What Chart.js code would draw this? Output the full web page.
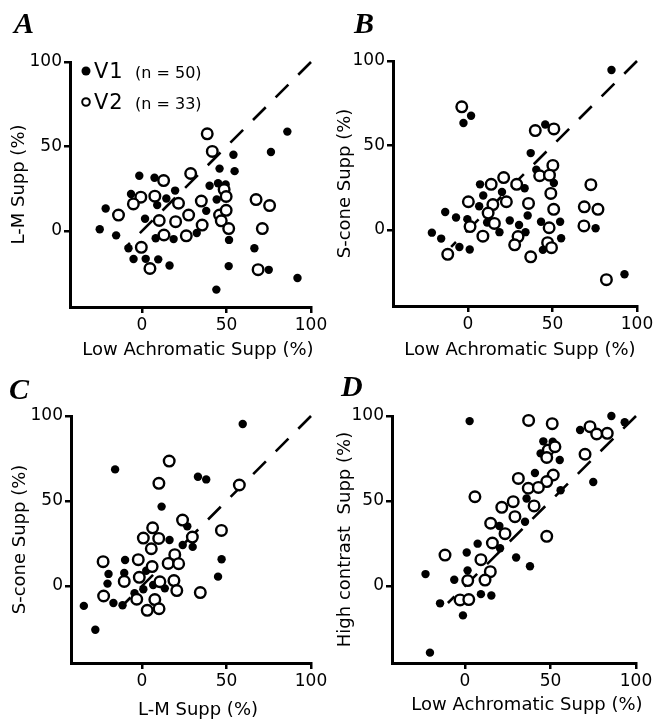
<!DOCTYPE html>
<html><head><meta charset="utf-8">
<script src="https://cdn.jsdelivr.net/npm/chart.js@4.4.0/dist/chart.umd.min.js"></script>
<style>
html,body{margin:0;padding:0;background:#fff;}
#wrap{position:relative;width:657px;height:720px;overflow:hidden;background:#fff;}
canvas{position:absolute;left:0;top:0;}
</style></head><body>
<div id="wrap">
<canvas id="cA" width="657" height="720" style="width:657px;height:720px"></canvas>
<canvas id="cB" width="657" height="720" style="width:657px;height:720px"></canvas>
<canvas id="cC" width="657" height="720" style="width:657px;height:720px"></canvas>
<canvas id="cD" width="657" height="720" style="width:657px;height:720px"></canvas>
</div>
<script>
// ---------- DATA ----------
const tickValues = [0, 50, 100];
const diagX = [100, -10];
const diagY = [100, -10];

// Panel A: Low Achromatic (x) vs L-M (y)
const aV1x = [86,76.3,54.1,54.8,45.9,-1.6,7.4,19.6,40,45,-6.5,14.4,44.2,-21.5,1.8,9,-25,-15.3,8.1,18.7,32.4,38,51.5,66.5,-8,-5,2.2,9.6,16.3,51.3,75,92,44,49.5];
const aV1y = [58.8,46.7,45.1,35.4,36.9,32.7,31.5,23.9,26.8,28.2,21.9,19.2,18.6,13.3,7.2,15.3,1,-2.6,-4.3,-4.8,-1.2,11.9,-5.3,-10.2,-10.2,-16.6,-16.5,-16.8,-20.4,-20.8,-23,-27.8,-34.7,27.5];
const aV2x = [38.6,41.6,28.8,12.8,-0.7,-5.1,7.6,-13.9,21.6,35.1,48.6,49.8,10.2,19.9,27.6,35.6,13,26.2,45.9,49.8,46.9,51.3,67.5,75.5,71.2,68.7,-0.4,4.7];
const aV2y = [57.5,47.1,34,29.8,20,16,20.6,9.4,16.4,17.7,24.5,20.4,6.2,5.5,9.4,3.5,-2.4,-2.9,9.4,12.2,6,1.4,18.6,15,1.4,-22.9,-9.7,-22.2];

// Panel B: Low Achromatic (x) vs S-cone (y)
const bV1x = [84.9,1.8,-2.7,45.7,37.1,40.4,50.8,7.1,33.5,20.1,9,-13.5,-7.1,6.6,24.7,35.3,54.5,43.2,-21.4,-15.9,-5.1,1,18.6,30.2,34,55.1,44.3,75.5,92.6,11.3,-0.4];
const bV1y = [94.7,67.6,63.3,62.4,45.5,35.7,27.8,27,24.7,22.5,20.4,10.6,7.4,14,5.6,8.6,4.9,4.9,-1.6,-5.1,-10.1,-11.6,-1.3,2.9,-1.3,-4.9,-11.8,1,-26.2,4.4,6.4];
const bV2x = [-3.7,39.8,50.8,50.2,42.4,48.2,21.1,13.7,28.8,49,0.2,14.7,22.7,35.8,11.9,50.7,72.7,68.8,76.9,68.6,1.2,15.6,48,8.8,29.6,27.6,47.1,49.4,-12,37.1,81.9];
const bV2y = [72.9,58.8,59.8,38.2,32.1,32.4,31,27,27,21.6,16.7,15,16.7,15.7,10,12.2,26.8,13.7,12.2,2.4,2,3.9,1.3,-3.7,-3.9,-8.8,-7.5,-10.5,-14.4,-15.9,-29.4];

// Panel C: L-M (x) vs S-cone (y)
const cV1x = [59.6,-15.9,33.1,38,11.6,26.8,16.3,24.1,30,-10,47.1,-19.8,-10.5,45,0.8,13.5,-4.4,-34.4,-11.5,-27.6,-16.9,-20.4,6.6,2.5];
const cV1y = [95.3,68.6,64.3,62.7,46.7,35.1,27.1,24.1,23,15.3,15.7,7.1,7.6,5.5,-1.9,-1.4,-4.3,-11.7,-11.3,-25.7,-10,1.4,0.6,9];
const cV2x = [16.1,10,57.6,24,29.8,47,6.3,0.8,9.9,5.5,-23,-2.2,19.4,15.5,21.7,6,-10.5,-1.6,10.6,18.9,20.6,34.5,-22.7,-3.1,7.6,3.1,10.1];
const cV2y = [73.5,60.4,59.4,38.8,28.8,32.7,34.2,28.2,28,21.9,14.3,15.5,18.4,13.3,13.1,11.4,2.7,5.1,2.5,3.2,-2.7,-3.9,-5.9,-7.8,-8,-14.3,-13.4];

// Panel D: Low Achromatic (x) vs High contrast (y)
const dV1x = [2.7,85.6,93.4,67.3,45.8,51.3,44.2,55.4,75,40.9,55.9,36,35.1,20.1,7.4,29.9,38,1,-23.1,-6.3,1.5,-14.6,9.3,15.4,-1.2,-20.5,20.5];
const dV1y = [97,100,96.3,91.8,85.1,84.9,78,74.1,61.2,66.5,56.3,51.5,37.8,35.3,24.9,16.8,11.6,19.7,7,3.7,9.2,-10.2,-4.8,-5.6,-17.3,-39.2,22.2];
const dV2x = [37.2,51,73.1,77,83.2,70.2,48.7,52.6,47.8,51.6,47.8,31.2,37,42.9,5.8,21.5,28.2,29.2,40.4,15,23.4,16,47.8,-11.7,9.3,14.8,1.6,11.7,-2.9,2.2];
const dV2y = [97.4,95.5,93.7,89.4,89.8,77.5,80,81.9,75.6,65.3,61.4,63.3,57.5,58,52.5,46.3,49.6,40.8,47.1,36.9,30.8,25.3,29.2,18.2,15.5,8.4,3.2,3.5,-8.2,-8];

const legendLabels = ['V1', '(n = 50)', 'V2', '(n = 33)'];
const titleLowAch = 'Low Achromatic Supp (%)';
const titleLM = 'L-M Supp (%)';
const titleS = 'S-cone Supp (%)';
const titleHigh = 'High contrast  Supp (%)';

// ---------- LAYOUT / STYLE ----------
const W = 657, H = 720, Y_W = 60, X_H = 40;
const panels = [
  {id:'cA', l:70, r:311, t:62, b:307, xmin:-42.6, ymin:-45, v1:[aV1x,aV1y], v2:[aV2x,aV2y],
   letter:'A', lp:[14,33], xt:titleLowAch, xtp:[198,355], yt:titleLM, ytp:[19.5,184.5], legend:true},
  {id:'cB', l:393, r:637, t:61, b:306, xmin:-44.4, ymin:-45, v1:[bV1x,bV1y], v2:[bV2x,bV2y],
   letter:'B', lp:[354,33], xt:titleLowAch, xtp:[520,355], yt:titleS, ytp:[345.5,183.5]},
  {id:'cC', l:71, r:311, t:416, b:663, xmin:-42, ymin:-45.3, v1:[cV1x,cV1y], v2:[cV2x,cV2y],
   letter:'C', lp:[9,399], xt:titleLM, xtp:[198,715], yt:titleS, ytp:[20.5,539.5]},
  {id:'cD', l:392, r:636, t:416, b:663, xmin:-42.7, ymin:-45.3, v1:[dV1x,dV1y], v2:[dV2x,dV2y],
   letter:'D', lp:[341,396], xt:titleLowAch, xtp:[527,710], yt:titleHigh, ytp:[345.5,539.5]}
];

function zip(xs, ys){ return xs.map((x,i)=>({x:x, y:ys[i]})); }

const decor = {
  id:'decor',
  afterDraw(chart, args, o){
    const ctx = chart.ctx;
    ctx.save();
    ctx.fillStyle = '#000'; ctx.strokeStyle = '#000';
    ctx.font = 'italic bold 30px "Liberation Serif"';
    ctx.textAlign = 'left'; ctx.textBaseline = 'alphabetic';
    ctx.fillText(o.letter, o.lp[0], o.lp[1]);
    ctx.font = '18px "DejaVu Sans"';
    ctx.textAlign = 'center'; ctx.textBaseline = 'alphabetic';
    ctx.fillText(o.xt, o.xtp[0], o.xtp[1]);
    ctx.save();
    ctx.translate(o.ytp[0], o.ytp[1]);
    ctx.rotate(-Math.PI/2);
    ctx.textBaseline = 'middle';
    ctx.fillText(o.yt, 0, 0);
    ctx.restore();
    if (o.legend) {
      ctx.beginPath(); ctx.arc(86, 71, 4.5, 0, Math.PI*2); ctx.fill();
      ctx.beginPath(); ctx.lineWidth = 2; ctx.arc(86, 102, 3.8, 0, Math.PI*2); ctx.stroke();
      ctx.textAlign = 'left'; ctx.textBaseline = 'alphabetic';
      ctx.font = '21px "DejaVu Sans"';
      try { ctx.letterSpacing = '1px'; } catch(e) {}
      ctx.fillText(legendLabels[0], 94, 77.5);
      ctx.fillText(legendLabels[2], 94, 109);
      try { ctx.letterSpacing = '0px'; } catch(e) {}
      ctx.font = '16px "DejaVu Sans"';
      ctx.fillText(legendLabels[1], 135, 77.5);
      ctx.fillText(legendLabels[3], 135, 109);
    }
    ctx.restore();
  }
};

function axis(min, isX){
  return {
    type:'linear', min:min, max:100,
    afterBuildTicks: s => { s.ticks = tickValues.map(v=>({value:v})); },
    afterFit: s => { if (isX) s.height = X_H; else s.width = Y_W; },
    grid:{display:true, drawOnChartArea:false, drawTicks:true, tickLength:6, lineWidth:2.5, color:'#000'},
    border:{display:true, width:3, color:'#000'},
    ticks:{color:'#000', padding:2, font:{family:'DejaVu Sans', size:17}, maxRotation:0, autoSkip:false},
    title:{display:false}
  };
}

panels.forEach(p => {
  new Chart(document.getElementById(p.id), {
    type:'scatter',
    data:{datasets:[
      {label:'V2', data:zip(p.v2[0], p.v2[1]), pointStyle:'circle', pointRadius:5.3, pointHoverRadius:5.3,
       backgroundColor:'#fff', borderColor:'#000', pointBorderWidth:2.4, borderWidth:2.4, clip:false},
      {label:'V1', data:zip(p.v1[0], p.v1[1]), pointStyle:'circle', pointRadius:4.2, pointHoverRadius:4.2,
       backgroundColor:'#000', borderColor:'#000', pointBorderWidth:0, borderWidth:0, clip:false},
      {type:'line', label:'unity', data:zip(diagX, diagY), borderColor:'#000', borderWidth:2.6,
       borderDash:[18,14], pointRadius:0, fill:false, tension:0, clip:false}
    ]},
    options:{
      responsive:false, animation:false, devicePixelRatio:1,
      layout:{padding:{left:p.l - Y_W, right:W - p.r, top:p.t, bottom:H - p.b - X_H}},
      plugins:{legend:{display:false}, tooltip:{enabled:false},
        decor:{letter:p.letter, lp:p.lp, xt:p.xt, xtp:p.xtp, yt:p.yt, ytp:p.ytp, legend:!!p.legend}},
      scales:{ x: axis(p.xmin, true), y: axis(p.ymin, false) },
      events:[]
    },
    plugins:[decor]
  });
});
</script>
</body></html>
